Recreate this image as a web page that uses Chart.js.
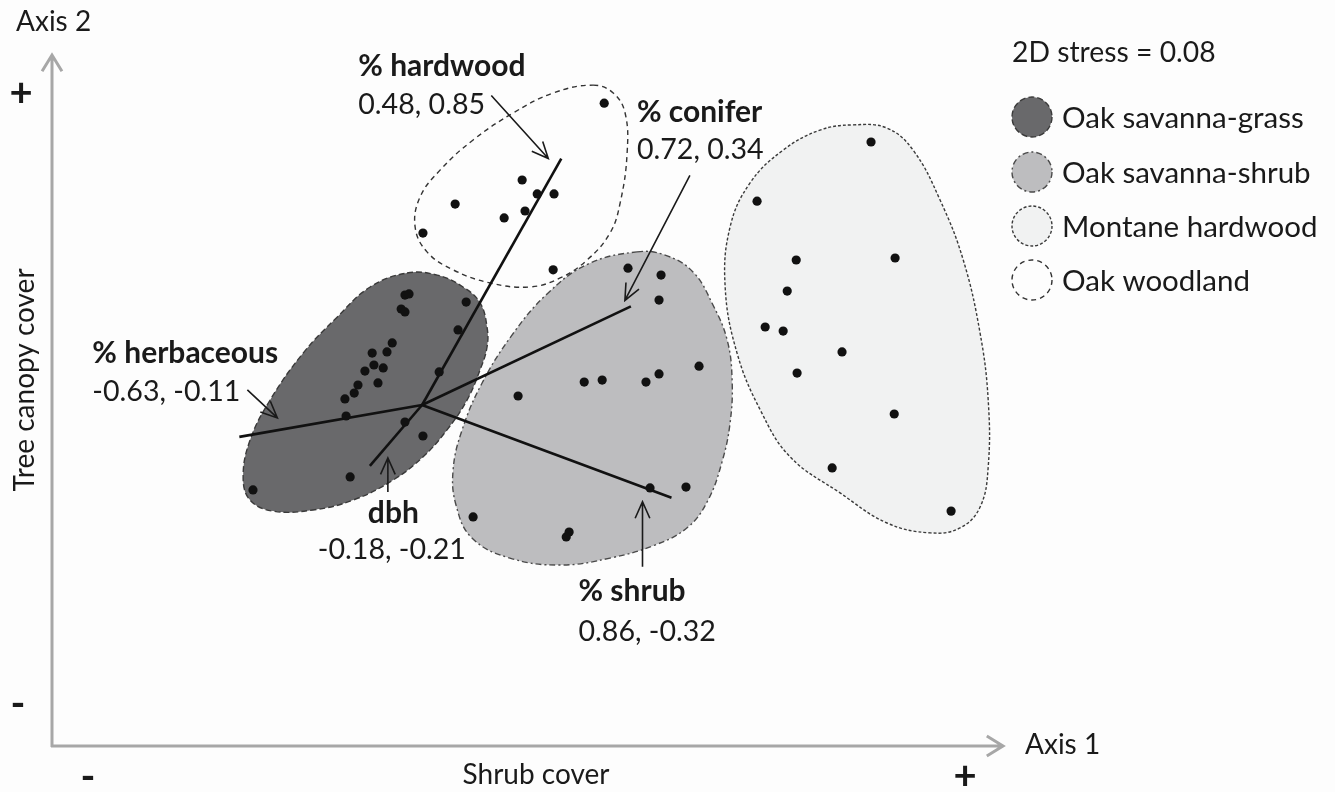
<!DOCTYPE html>
<html>
<head>
<meta charset="utf-8">
<script src="https://cdn.jsdelivr.net/npm/chart.js@4.4.0/dist/chart.umd.min.js"></script>
<style>
  html, body { margin: 0; padding: 0; background: #fdfdfd; }
</style>
</head>
<body>
<canvas id="nmds" width="1335" height="792"></canvas>
<script>
// NMDS site scores (axis 1, axis 2), one list per vegetation type
const groupNames = ['Oak savanna-grass', 'Oak savanna-shrub', 'Montane hardwood', 'Oak woodland'];

const savannaGrass = [
  [-0.059, 0.379], [-0.045, 0.383], [-0.072, 0.331], [-0.059, 0.321], [0.152, 0.355],
  [0.124, 0.259], [-0.103, 0.214], [-0.172, 0.179], [-0.121, 0.183], [-0.166, 0.138],
  [-0.134, 0.128], [-0.197, 0.117], [-0.152, 0.076], [-0.221, 0.069], [-0.234, 0.041],
  [-0.266, 0.021], [-0.262, -0.038], [0.059, 0.114], [-0.059, -0.059], [0.003, -0.107],
  [-0.248, -0.248], [-0.583, -0.293]
];
const savannaShrub = [
  [0.710, 0.472], [0.824, 0.448], [0.817, 0.362], [0.955, 0.134], [0.817, 0.107],
  [0.772, 0.079], [0.559, 0.079], [0.621, 0.086], [0.331, 0.031], [0.786, -0.286],
  [0.910, -0.283], [0.176, -0.386], [0.507, -0.438], [0.497, -0.455]
];
const montaneHardwood = [
  [1.548, 0.907], [1.155, 0.703], [1.290, 0.500], [1.631, 0.507], [1.259, 0.393],
  [1.183, 0.269], [1.245, 0.255], [1.448, 0.183], [1.293, 0.110], [1.628, -0.031],
  [1.414, -0.217], [1.824, -0.366]
];
const oakWoodland = [
  [0.628, 1.041], [0.345, 0.776], [0.397, 0.728], [0.455, 0.728], [0.114, 0.693],
  [0.355, 0.669], [0.283, 0.645], [0.003, 0.593], [0.452, 0.466]
];

// hand-traced group outlines (closed, smoothed when drawn)
const grassOutline = [
  [-0.052, 0.455], [0.052, 0.448], [0.141, 0.407], [0.200, 0.352], [0.224, 0.269],
  [0.224, 0.200], [0.200, 0.121], [0.155, 0.017], [0.086, -0.086], [0.003, -0.179],
  [-0.100, -0.259], [-0.238, -0.328], [-0.376, -0.362], [-0.514, -0.366], [-0.593, -0.328],
  [-0.617, -0.248], [-0.593, -0.121], [-0.524, 0.017], [-0.410, 0.179], [-0.293, 0.303],
  [-0.179, 0.407]
];
const shrubOutline = [
  [0.741, 0.528], [0.838, 0.517], [0.934, 0.459], [1.003, 0.345], [1.052, 0.224],
  [1.069, 0.086], [1.062, -0.062], [1.034, -0.197], [0.986, -0.328], [0.917, -0.421],
  [0.803, -0.483], [0.648, -0.528], [0.476, -0.552], [0.303, -0.528], [0.172, -0.459],
  [0.117, -0.345], [0.107, -0.224], [0.138, -0.086], [0.207, 0.076], [0.310, 0.241],
  [0.431, 0.383], [0.572, 0.486]
];
const montaneOutline = [
  [1.486, 0.966], [1.603, 0.955], [1.693, 0.879], [1.786, 0.707], [1.866, 0.500],
  [1.924, 0.248], [1.952, 0.017], [1.952, -0.214], [1.924, -0.352], [1.855, -0.424],
  [1.752, -0.441], [1.603, -0.407], [1.441, -0.303], [1.269, -0.179], [1.166, -0.017],
  [1.086, 0.179], [1.045, 0.407], [1.062, 0.614], [1.131, 0.766], [1.245, 0.879],
  [1.372, 0.948]
];
const woodlandOutline = [
  [0.590, 1.103], [0.659, 1.076], [0.700, 1.007], [0.707, 0.869], [0.683, 0.697],
  [0.648, 0.593], [0.569, 0.500], [0.476, 0.438], [0.372, 0.407], [0.234, 0.421],
  [0.107, 0.466], [0.017, 0.528], [-0.024, 0.614], [-0.007, 0.717], [0.062, 0.810],
  [0.176, 0.914], [0.314, 1.007], [0.452, 1.076]
];

// environmental vectors (joint plot)
const vectorNames = ['% hardwood', '% conifer', '% shrub', '% herbaceous', 'dbh'];
const vectorAxis1 = [0.48, 0.72, 0.86, -0.63, -0.18];
const vectorAxis2 = [0.85, 0.34, -0.32, -0.11, -0.21];

const stressText = '2D stress = 0.08';

// label placement relative to each vector tip, in pixels
// [title dx, title dy, values dx, values dy, arrow start dx, dy, arrow tip dx, dy]
const vectorLabelPos = [
  [-203, -92, -203, -54, -70, -63, -13, 0],
  [6, -194, 6, -157, 59, -131, -6, -6],
  [-93, 94, -93, 134, -29, 69, -29, 4],
  [-147, -84, -147, -45, 8, -47, 38, -19],
  [-2, 47, -52, 84, 18, 26, 18, -8]
];

const FONT = 'Lato, "Open Sans", sans-serif';
const groupStyles = [
  { fill: '#69696b', line: '#3a3a3a', dash: [6, 3] },
  { fill: '#bdbdbf', line: '#4a4a4a', dash: [6, 3, 2, 3] },
  { fill: '#f1f2f2', line: '#3a3a3a', dash: [3, 2] },
  { fill: 'rgba(255,255,255,0)', line: '#333333', dash: [5, 4] }
];

function toXY(list) {
  return list.map(p => ({ x: p[0], y: p[1] }));
}

function pointSet(label, list) {
  return {
    type: 'scatter', label, data: toXY(list),
    pointRadius: 4.6, pointBackgroundColor: '#111', pointBorderWidth: 0
  };
}

function outlineSet(label, list, st) {
  return {
    type: 'line', label, data: toXY(list), closed: true,
    fill: 'shape', backgroundColor: st.fill, borderColor: st.line,
    borderWidth: 1.4, borderDash: st.dash, tension: 0.4,
    pointRadius: 0, pointHitRadius: 0
  };
}

const vectorSets = vectorNames.map((name, i) => ({
  type: 'line', label: name,
  data: [{ x: 0, y: 0 }, { x: vectorAxis1[i], y: vectorAxis2[i] }],
  borderColor: '#111', borderWidth: 2.6, pointRadius: 0, fill: false
}));

function arrow(ctx, x1, y1, x2, y2, head, spread) {
  const a = Math.atan2(y2 - y1, x2 - x1);
  ctx.beginPath();
  ctx.moveTo(x1, y1);
  ctx.lineTo(x2, y2);
  ctx.moveTo(x2 - head * Math.cos(a - spread), y2 - head * Math.sin(a - spread));
  ctx.lineTo(x2, y2);
  ctx.lineTo(x2 - head * Math.cos(a + spread), y2 - head * Math.sin(a + spread));
  ctx.stroke();
}

// let the outline datasets close on themselves like a radar line does
const closeOutlines = {
  id: 'closeOutlines',
  afterDatasetUpdate(chart, args) {
    if (chart.data.datasets[args.index].closed) {
      args.meta.dataset._loop = true;
      args.meta.dataset._fullLoop = true;
    }
  }
};

const background = {
  id: 'background',
  beforeDraw(chart) {
    const ctx = chart.ctx;
    ctx.save();
    ctx.fillStyle = '#fdfdfd';
    ctx.fillRect(0, 0, chart.width, chart.height);
    ctx.restore();
  }
};

const decorations = {
  id: 'decorations',
  afterDraw(chart) {
    const ctx = chart.ctx;
    const { left, right, top, bottom } = chart.chartArea;
    const xs = chart.scales.x, ys = chart.scales.y;
    ctx.save();

    // axes with open arrow heads
    ctx.strokeStyle = '#a7a7a7';
    ctx.lineWidth = 3;
    ctx.lineCap = 'butt';
    arrow(ctx, left, bottom + 1, left, top, 19, 0.55);
    arrow(ctx, left - 1, bottom, right, bottom, 19, 0.55);

    ctx.fillStyle = '#1a1a1a';
    ctx.textBaseline = 'middle';
    ctx.textAlign = 'left';
    ctx.font = '28px ' + FONT;
    ctx.fillText('Axis 2', 16, 22);
    ctx.fillText('Axis 1', 1025, 745);
    ctx.textAlign = 'center';
    ctx.fillText('Shrub cover', 536, 775);
    ctx.save();
    ctx.translate(25, 380);
    ctx.rotate(-Math.PI / 2);
    ctx.fillText('Tree canopy cover', 0, 0);
    ctx.restore();

    ctx.font = 'bold 40px ' + FONT;
    ctx.fillText('+', 21, 93);
    ctx.fillText('+', 965, 776);
    ctx.fillText('-', 18, 704);
    ctx.fillText('-', 88, 777);

    // vector labels with pointer arrows
    ctx.strokeStyle = '#1a1a1a';
    ctx.lineWidth = 1.6;
    vectorNames.forEach((name, i) => {
      const ex = xs.getPixelForValue(vectorAxis1[i]);
      const ey = ys.getPixelForValue(vectorAxis2[i]);
      const p = vectorLabelPos[i];
      ctx.textAlign = 'left';
      ctx.font = 'bold 30px ' + FONT;
      ctx.fillText(name, ex + p[0], ey + p[1]);
      ctx.font = '28.6px ' + FONT;
      ctx.fillText(vectorAxis1[i].toFixed(2) + ', ' + vectorAxis2[i].toFixed(2), ex + p[2], ey + p[3]);
      arrow(ctx, ex + p[4], ey + p[5], ex + p[6], ey + p[7], 18, 0.42);
    });

    // stress and legend
    ctx.font = '28.3px ' + FONT;
    ctx.textAlign = 'left';
    ctx.fillText(stressText, 1012, 53);
    const rowY = [117, 172, 226, 280];
    groupNames.forEach((name, i) => {
      const st = groupStyles[i];
      ctx.beginPath();
      ctx.arc(1032, rowY[i], 20, 0, Math.PI * 2);
      ctx.fillStyle = st.fill === 'rgba(255,255,255,0)' ? '#fdfdfd' : st.fill;
      ctx.fill();
      ctx.setLineDash(st.dash);
      ctx.strokeStyle = st.line;
      ctx.lineWidth = 1.4;
      ctx.stroke();
      ctx.setLineDash([]);
      ctx.fillStyle = '#1a1a1a';
      ctx.font = '29.5px ' + FONT;
      ctx.fillText(name, 1062, rowY[i] + 1);
    });
    ctx.restore();
  }
};

new Chart(document.getElementById('nmds').getContext('2d'), {
  type: 'scatter',
  data: {
    datasets: [
      pointSet(groupNames[0], savannaGrass),
      pointSet(groupNames[1], savannaShrub),
      pointSet(groupNames[2], montaneHardwood),
      pointSet(groupNames[3], oakWoodland),
      ...vectorSets,
      outlineSet(groupNames[3], woodlandOutline, groupStyles[3]),
      outlineSet(groupNames[0], grassOutline, groupStyles[0]),
      outlineSet(groupNames[1], shrubOutline, groupStyles[1]),
      outlineSet(groupNames[2], montaneOutline, groupStyles[2])
    ]
  },
  options: {
    responsive: false,
    animation: false,
    layout: { padding: { left: 52, right: 332, top: 55, bottom: 46 } },
    scales: {
      x: { type: 'linear', min: -1.276, max: 2.003, display: false },
      y: { type: 'linear', min: -1.176, max: 1.207, display: false }
    },
    plugins: {
      legend: { display: false },
      tooltip: { enabled: false }
    }
  },
  plugins: [closeOutlines, background, decorations]
});
</script>
</body>
</html>
